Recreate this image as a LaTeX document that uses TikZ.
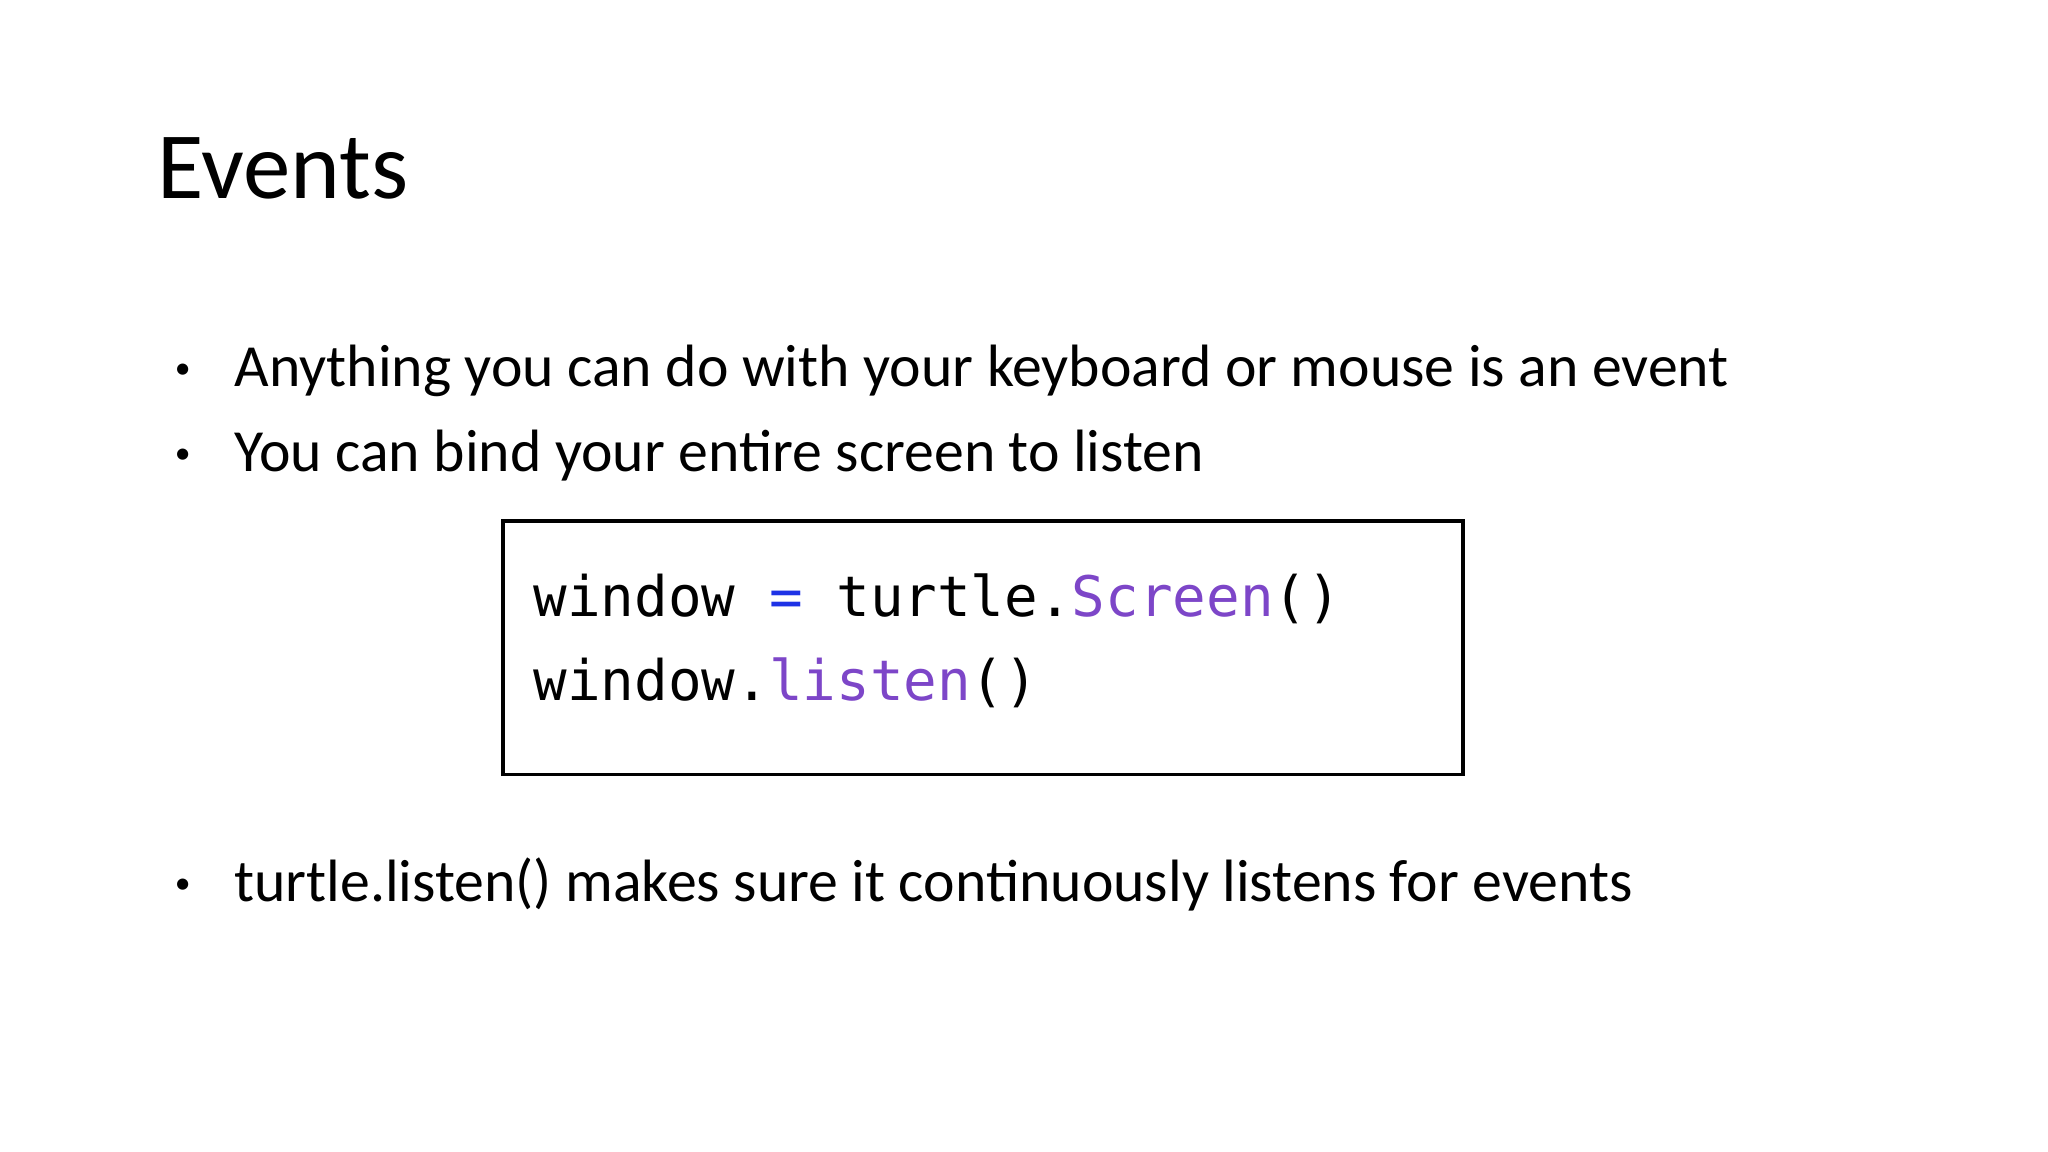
\documentclass[tikz,border=0pt]{standalone}
\usepackage{fontspec}
\setmainfont{Carlito}
\newfontfamily\codefont{DejaVu Sans Mono}
\definecolor{kwblue}{RGB}{30,50,230}
\definecolor{fnpurple}{RGB}{125,70,200}
\begin{document}
\begin{tikzpicture}[x=0.013061cm,y=-0.013061cm,
  txt/.style={anchor=base west,inner sep=0pt,font=\fontsize{17pt}{21pt}\selectfont},
  bul/.style={anchor=base,inner sep=0pt,font=\fontsize{9pt}{11pt}\selectfont},
  code/.style={anchor=base west,inner sep=0pt,font=\codefont\fontsize{15.9pt}{19pt}\selectfont}]
\useasboundingbox (0,0) rectangle (1568,882);
\node[anchor=base west,inner sep=0pt,font=\fontsize{27pt}{32pt}\selectfont] (title) at (120,152) {Events};
\node[bul] (b1) at (140,290) {•};
\node[txt] (t1) at (179,296) {Anything you can do with your keyboard or mouse is an event};
\node[bul] (b2) at (140,355) {•};
\node[txt] (t2) at (179,361) {You can bind your entire screen to listen};
\draw[line width=1.1pt] (385,399) rectangle (1120,593);
\node[code] (c1) at (408,472) {window {\color{kwblue}=} turtle.{\color{fnpurple}Screen}()};
\node[code] (c2) at (408,536) {window.{\color{fnpurple}listen}()};
\node[bul] (b3) at (140,684) {•};
\node[txt] (t3) at (179,690) {turtle.listen() makes sure it continuously listens for events};
\end{tikzpicture}
\end{document}
